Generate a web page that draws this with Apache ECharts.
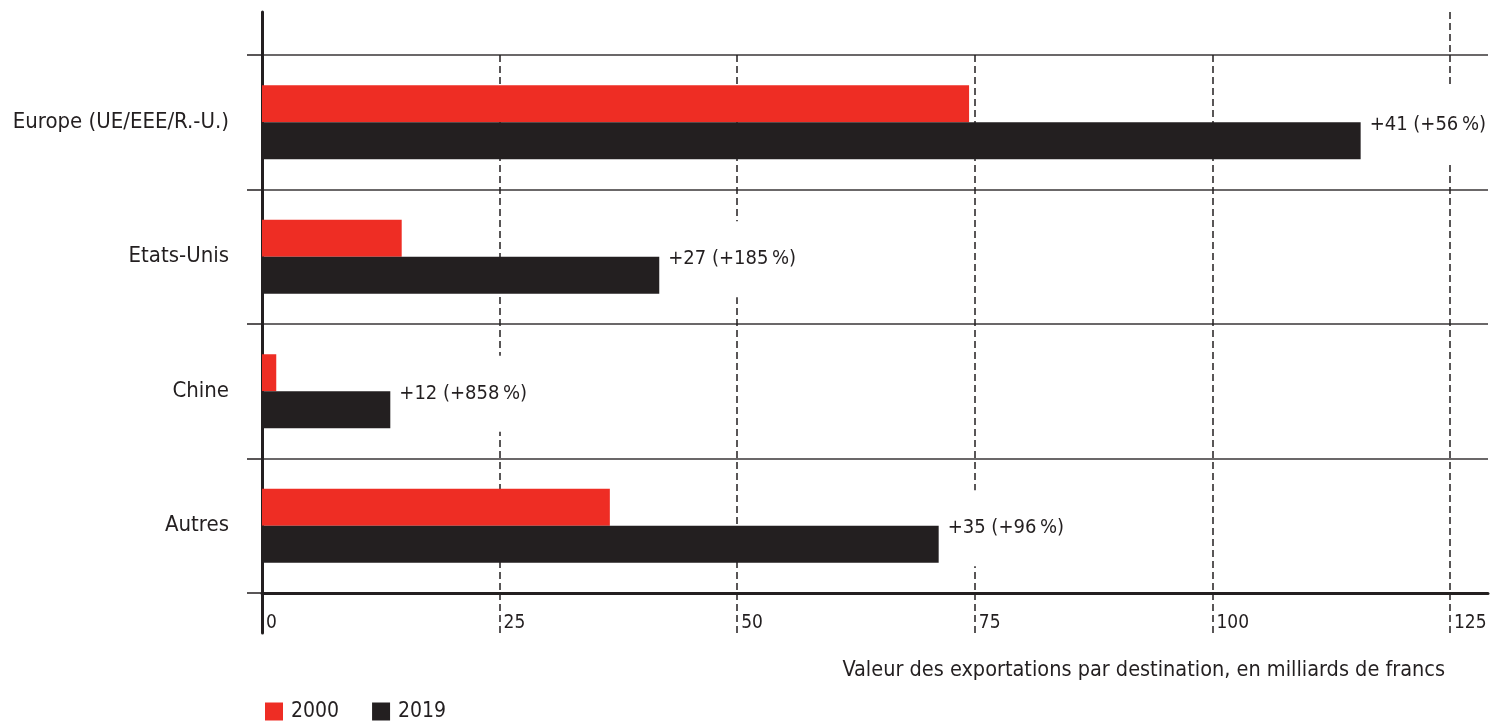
<!DOCTYPE html>
<html>
<head>
<meta charset="utf-8">
<title>Exportations par destination</title>
<script src="https://cdn.jsdelivr.net/npm/echarts@6/dist/echarts.min.js"></script>
<style>
  html, body { margin: 0; padding: 0; background: #fff; }
  #chart { width: 1493px; height: 721px; }
</style>
</head>
<body>
<div id="chart"></div>
<script>
// données (milliards de francs)
const categories = ['Europe (UE/EEE/R.-U.)', 'Etats-Unis', 'Chine', 'Autres']
const values2000 = [74.4, 14.7, 1.5, 36.6]
const values2019 = [115.6, 41.8, 13.5, 71.2]
const changeLabels = ['+41 (+56\u2009%)', '+27 (+185\u2009%)', '+12 (+858\u2009%)', '+35 (+96\u2009%)']
const seriesNames = ['2000', '2019']
const axisTitle = 'Valeur des exportations par destination, en milliards de francs'

const FONT = "'Liberation Sans Narrow', 'DejaVu Sans Condensed', 'Arial Narrow', sans-serif"
const INK = '#231f20'
const RED = '#ee2d24'

// échelle commune : 0 -> 129, ticks tous les 25
const xMin = 0
const xMax = 129
const left = 262
const right = 5

const dashed = {
  show: true,
  showMinLine: false,
  showMaxLine: false,
  lineStyle: { color: INK, width: 1.5, type: [7, 4] }
}

const chart = echarts.init(document.getElementById('chart'))

const option = {
  animation: false,
  backgroundColor: '#fff',
  textStyle: { fontFamily: FONT },
  title: {
    text: axisTitle,
    right: 48,
    top: 659,
    padding: 0,
    textStyle: { fontFamily: FONT, fontSize: 21.5, fontWeight: 'normal', color: INK }
  },
  legend: {
    data: seriesNames,
    left: 265,
    top: 701,
    padding: 0,
    icon: 'rect',
    itemWidth: 18,
    itemHeight: 18,
    itemGap: 33,
    textStyle: { fontFamily: FONT, fontSize: 21, color: INK, padding: [0, 0, 0, 3] }
  },
  grid: [
    // zone principale
    { left: left, right: right, top: 55, height: 538, outerBoundsMode: 'none' },
    // ligne verticale de l'axe (prolongée)
    { left: left, right: right, top: 12, height: 621, outerBoundsMode: 'none' },
    // pointillés sous l'axe
    { left: left, right: right, top: 593, height: 40, outerBoundsMode: 'none' },
    // pointillé 125 au-dessus
    { left: left, right: right, top: 12, height: 43, outerBoundsMode: 'none' }
  ],
  xAxis: [
    {
      gridIndex: 0,
      type: 'value',
      min: xMin,
      max: xMax,
      interval: 25,
      axisLine: { show: true, onZero: false, lineStyle: { color: INK, width: 3 } },
      axisTick: { show: false },
      splitLine: dashed,
      axisLabel: {
        show: true,
        showMaxLabel: false,
        align: 'left',
        margin: 21,
        padding: [0, 0, 0, 4],
        fontFamily: FONT,
        fontSize: 19,
        color: INK
      }
    },
    { gridIndex: 1, type: 'value', min: xMin, max: xMax, show: false },
    {
      gridIndex: 2,
      type: 'value',
      min: xMin,
      max: xMax,
      interval: 25,
      axisLine: { show: false },
      axisTick: { show: false },
      axisLabel: { show: false },
      splitLine: dashed
    },
    {
      gridIndex: 3,
      type: 'value',
      min: xMin,
      max: xMax,
      interval: 125,
      axisLine: { show: false },
      axisTick: { show: false },
      axisLabel: { show: false },
      splitLine: dashed
    }
  ],
  yAxis: [
    {
      gridIndex: 0,
      type: 'category',
      data: categories,
      inverse: true,
      axisLine: { show: false },
      axisTick: { show: true, length: 15, lineStyle: { color: INK, width: 1.5 } },
      splitLine: { show: true, lineStyle: { color: '#3a3637', width: 1.5 } },
      axisLabel: { margin: 33, fontFamily: FONT, fontSize: 22, color: INK }
    },
    {
      gridIndex: 1,
      type: 'value',
      axisLine: { show: true, lineStyle: { color: INK, width: 3 } },
      axisTick: { show: false },
      axisLabel: { show: false },
      splitLine: { show: false }
    },
    { gridIndex: 2, type: 'value', show: false },
    { gridIndex: 3, type: 'value', show: false }
  ],
  series: [
    {
      name: seriesNames[0],
      type: 'bar',
      xAxisIndex: 0,
      yAxisIndex: 0,
      data: values2000,
      barWidth: 37,
      barGap: '0%',
      itemStyle: { color: RED }
    },
    {
      name: seriesNames[1],
      type: 'bar',
      xAxisIndex: 0,
      yAxisIndex: 0,
      data: values2019,
      barWidth: 37,
      barGap: '0%',
      itemStyle: { color: INK },
      label: {
        show: true,
        position: 'right',
        distance: 9,
        offset: [0, -16],
        formatter: (p) => changeLabels[p.dataIndex],
        fontFamily: FONT,
        fontSize: 20,
        color: INK,
        backgroundColor: '#fff',
        lineHeight: 22,
        padding: [27, 4, 27, 0]
      }
    }
  ]
}

chart.setOption(option)
</script>
</body>
</html>
